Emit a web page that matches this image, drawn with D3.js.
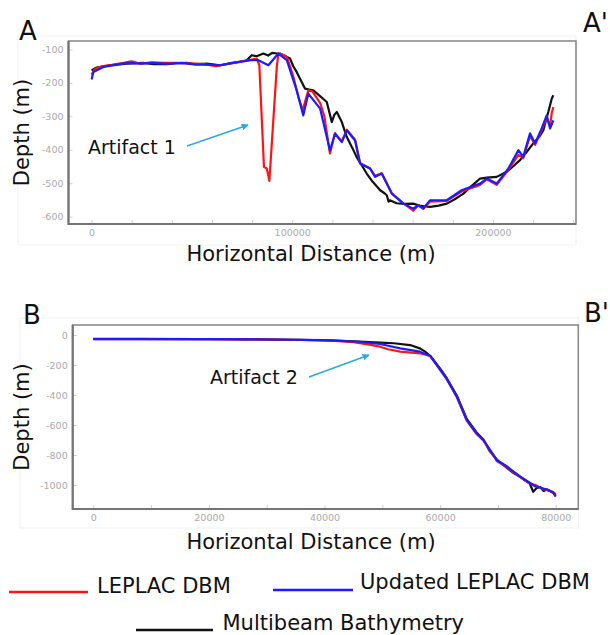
<!DOCTYPE html>
<html>
<head>
<meta charset="utf-8">
<script src="https://cdn.jsdelivr.net/npm/d3@7"></script>
<style>
  body { margin: 0; background: #fff; }
  svg { font-family: "DejaVu Sans", Verdana, sans-serif; }
</style>
</head>
<body>
<svg id="svg1" width="610" height="635"></svg>
<script>
// profile A-A' : [distance (m), depth (m)]
const multibeamA = [[0,-162],[2600,-154],[9200,-147],[17500,-142],[25800,-140],[30800,-144],[37500,-144],[42000,-141],[47400,-140],[52000,-144],[57400,-142],[64000,-147],[70700,-140],[75000,-135],[77300,-132],[79800,-117],[82300,-120],[85600,-112],[88000,-118],[90000,-110],[92300,-112],[93900,-112],[96000,-118],[98900,-127],[100500,-150],[102200,-167],[104700,-197],[106400,-217],[108500,-220],[110500,-222],[114000,-240],[117200,-257],[119000,-300],[119700,-317],[121000,-295],[122200,-287],[124700,-317],[127200,-362],[130000,-395],[132100,-422],[135000,-450],[137100,-471],[140000,-495],[143800,-521],[146000,-530],[147100,-536],[148000,-555],[148700,-551],[152000,-560],[156000,-562],[160300,-561],[164000,-568],[168700,-571],[173000,-567],[177000,-561],[181000,-548],[185300,-531],[189000,-510],[193600,-486],[197000,-483],[201900,-481],[206900,-466],[210000,-450],[213500,-431],[217000,-405],[220100,-381],[223000,-362],[225100,-342],[226500,-310],[227600,-287],[229300,-247],[230100,-237]];
const leplacA = [[0,-175],[1500,-160],[5000,-150],[10000,-146],[16000,-140],[20000,-135],[24000,-142],[30000,-138],[36000,-140],[42000,-140],[48000,-141],[55000,-143],[62000,-150],[68000,-143],[74000,-137],[80000,-130],[82300,-127],[83600,-147],[85900,-451],[87300,-456],[88600,-493],[92300,-152],[93100,-112],[95000,-115],[97300,-122],[100600,-182],[103000,-240],[105200,-282],[108000,-222],[110000,-225],[113900,-260],[116000,-300],[118800,-411],[121300,-350],[124700,-375],[127200,-340],[131300,-370],[133800,-440],[138800,-456],[141300,-478],[144600,-470],[149600,-530],[155400,-560],[160300,-582],[162800,-566],[165300,-576],[168700,-555],[177000,-553],[184400,-525],[193600,-505],[196900,-488],[201900,-505],[207700,-460],[212700,-415],[215100,-425],[218500,-358],[221000,-385],[224300,-340],[226800,-305],[228500,-330],[229300,-290],[230100,-272]];
const updatedA = [[0,-190],[900,-167],[5900,-152],[12000,-146],[18000,-140],[25000,-142],[30000,-140],[38000,-143],[45000,-140],[52000,-145],[58000,-145],[64000,-147],[70000,-140],[76000,-135],[79000,-132],[83100,-132],[88100,-147],[93100,-112],[97300,-132],[102200,-222],[105500,-297],[108000,-232],[113900,-277],[118800,-402],[121300,-352],[124700,-377],[127200,-342],[131300,-372],[133800,-441],[138800,-456],[141300,-481],[144600,-471],[149600,-531],[155400,-561],[160300,-576],[162800,-566],[165300,-576],[168700,-551],[177000,-551],[184400,-521],[193600,-501],[196900,-486],[201900,-501],[207700,-456],[212700,-401],[215100,-421],[218500,-351],[221000,-381],[224300,-336],[226800,-297],[228500,-336],[230100,-312]];

// profile B-B'
const multibeamB = [[0,-25],[8000,-26],[18000,-28],[28000,-29],[36000,-33],[42000,-38],[46000,-44],[49600,-51],[52000,-55],[54800,-67],[56500,-89],[57400,-111],[58300,-140],[60000,-225],[61100,-285],[62900,-405],[64600,-560],[66300,-650],[67500,-698],[68500,-770],[69800,-830],[71500,-885],[72500,-915],[73800,-945],[75500,-990],[76100,-1045],[76700,-1020],[77300,-1013],[77900,-1040],[78500,-1030],[79300,-1045],[80000,-1062]];
const leplacB = [[0,-27],[10000,-27],[20000,-28],[30000,-30],[40000,-35],[45000,-48],[47500,-62],[49600,-78],[51000,-95],[53100,-111],[56500,-122],[58300,-140],[60000,-233],[61100,-292],[62900,-415],[64600,-570],[66300,-660],[67500,-705],[69800,-840],[71500,-880],[73800,-945],[75500,-990],[76500,-1000],[77600,-1024],[79600,-1047],[80000,-1070]];
const updatedB = [[0,-27],[10000,-28],[20000,-28],[30000,-30],[40000,-34],[46000,-45],[49600,-60],[53100,-89],[56500,-111],[58300,-140],[60000,-230],[61100,-289],[62900,-411],[64600,-565],[66300,-655],[67500,-700],[69800,-833],[71500,-875],[73800,-942],[75500,-985],[76500,-1010],[77500,-1020],[78500,-1030],[79500,-1050],[80000,-1078]];

const yTicksA = [-100, -200, -300, -400, -500, -600];
const xLabelsA = [0, 100000, 200000];
const xMinorA = d3.range(0, 240001, 20000);
const yTicksB = [0, -200, -400, -600, -800, -1000];
const xLabelsB = [0, 20000, 40000, 60000, 80000];
const xMinorB = d3.range(0, 80001, 10000);

const seriesNames = ["LEPLAC DBM", "Updated LEPLAC DBM", "Multibeam Bathymetry"];
const colors = { leplac: "#ff1414", updated: "#1c1cff", multibeam: "#111" };

const svg = d3.select("#svg1");

const drawPanel = function (p) {
    const x = d3.scaleLinear().domain(p.xDomain).range([p.left, p.right]);
    const y = d3.scaleLinear().domain(p.yDomain).range([p.top, p.bottom]);
    const g = svg.append("g");

    // faint outer box
    g.append("rect")
        .attr("x", p.outer[0]).attr("y", p.outer[1])
        .attr("width", p.right - p.outer[0]).attr("height", p.outer[2] - p.outer[1])
        .attr("fill", "none").attr("stroke", "#f1f1f1");

    const yAxis = g.append("g")
        .attr("transform", "translate(" + p.left + ",0)")
        .call(d3.axisLeft(y).tickValues(p.yTicks).tickSize(-4).tickPadding(5)
            .tickFormat(d => String(d)));
    const xAxis = g.append("g")
        .attr("transform", "translate(0," + p.bottom + ")")
        .call(d3.axisBottom(x).tickValues(p.xMinor).tickSize(-4).tickPadding(5)
            .tickFormat(d => p.xLabels.includes(d) ? String(d) : ""));
    [yAxis, xAxis].forEach(a => {
        a.select(".domain").remove();
        a.selectAll("line").attr("stroke", "#cfcfcf");
        a.selectAll("text").attr("fill", "#aaa").style("font-size", "9.5px")
            .style("font-family", "'DejaVu Sans', sans-serif");
    });

    //frame
    g.append("rect")
        .attr("x", p.left).attr("y", p.top)
        .attr("width", p.right - p.left).attr("height", p.bottom - p.top)
        .attr("fill", "none").attr("stroke", "#8c8c8c").attr("stroke-width", 1.6);
    g.append("path")
        .attr("d", "M" + p.left + "," + p.top + "V" + p.bottom + "H" + p.right)
        .attr("fill", "none").attr("stroke", "#747474").attr("stroke-width", 2.2);

    const line = d3.line().x(d => x(d[0])).y(d => y(d[1]));
    [["multibeam", p.multibeam], ["leplac", p.leplac], ["updated", p.updated]].forEach(s => {
        g.append("path")
            .datum(s[1])
            .attr("d", line)
            .attr("fill", "none")
            .attr("stroke", colors[s[0]])
            .attr("stroke-width", 2.2)
            .attr("stroke-linejoin", "round");
    });

    g.append("text")
        .attr("transform", "translate(" + p.yLabelX + "," + (p.top + p.bottom) / 2 + ") rotate(-90)")
        .attr("text-anchor", "middle")
        .style("font-size", "21px")
        .attr("fill", "#111")
        .text("Depth (m)");
    g.append("text")
        .attr("x", 311).attr("y", p.xLabelY)
        .attr("text-anchor", "middle")
        .style("font-size", "21px")
        .attr("fill", "#111")
        .text("Horizontal Distance (m)");

    g.append("text").attr("x", p.letter[0]).attr("y", p.letter[1])
        .style("font-size", "26px").attr("fill", "#111").text(p.name);
    g.append("text").attr("x", p.letter2[0]).attr("y", p.letter2[1])
        .style("font-size", "26px").attr("fill", "#111").text(p.name + "'");

    // artifact note + arrow
    g.append("text").attr("x", p.note.x).attr("y", p.note.y)
        .style("font-size", "19px").attr("fill", "#111").text(p.note.text);
    g.append("line")
        .attr("x1", p.note.a[0]).attr("y1", p.note.a[1])
        .attr("x2", p.note.a[2]).attr("y2", p.note.a[3])
        .attr("stroke", "#2aaae2").attr("stroke-width", 1.4)
        .attr("marker-end", "url(#arrow)");
};

svg.append("defs").append("marker")
    .attr("id", "arrow")
    .attr("viewBox", "0 0 10 10")
    .attr("refX", 9).attr("refY", 5)
    .attr("markerWidth", 7).attr("markerHeight", 7)
    .attr("markerUnits", "userSpaceOnUse")
    .attr("orient", "auto")
    .append("path").attr("d", "M0,0L10,5L0,10z").attr("fill", "#2aaae2");

drawPanel({
    name: "A", xDomain: [-11500, 241400], yDomain: [-74.5, -622],
    left: 68.5, right: 576, top: 41, bottom: 224, outer: [18, 36, 245],
    yTicks: yTicksA, xLabels: xLabelsA, xMinor: xMinorA,
    multibeam: multibeamA, leplac: leplacA, updated: updatedA,
    yLabelX: 29, xLabelY: 261, letter: [19, 39.5], letter2: [583, 32],
    note: { text: "Artifact 1", x: 88, y: 153.5, a: [187, 146, 248, 125] }
});
drawPanel({
    name: "B", xDomain: [-3560, 83900], yDomain: [66.7, -1160],
    left: 72.7, right: 578.3, top: 325, bottom: 509, outer: [20, 318, 528],
    yTicks: yTicksB, xLabels: xLabelsB, xMinor: xMinorB,
    multibeam: multibeamB, leplac: leplacB, updated: updatedB,
    yLabelX: 29, xLabelY: 548.5, letter: [23, 324], letter2: [584, 322],
    note: { text: "Artifact 2", x: 210, y: 383.5, a: [309, 377, 369, 355] }
});

// legend
const legend = [
    { name: seriesNames[0], c: colors.leplac, x1: 9, x2: 88, ly: 592, tx: 97, ty: 592.5 },
    { name: seriesNames[1], c: colors.updated, x1: 273, x2: 353, ly: 590, tx: 360, ty: 588.5 },
    { name: seriesNames[2], c: colors.multibeam, x1: 136, x2: 213, ly: 630, tx: 222.5, ty: 629.5 }
];
const lg = svg.append("g");
legend.forEach(d => {
    lg.append("line").attr("x1", d.x1).attr("x2", d.x2).attr("y1", d.ly).attr("y2", d.ly)
        .attr("stroke", d.c).attr("stroke-width", 2.5);
    lg.append("text").attr("x", d.tx).attr("y", d.ty)
        .style("font-size", "21px").attr("fill", "#111").text(d.name);
});
</script>
</body>
</html>
